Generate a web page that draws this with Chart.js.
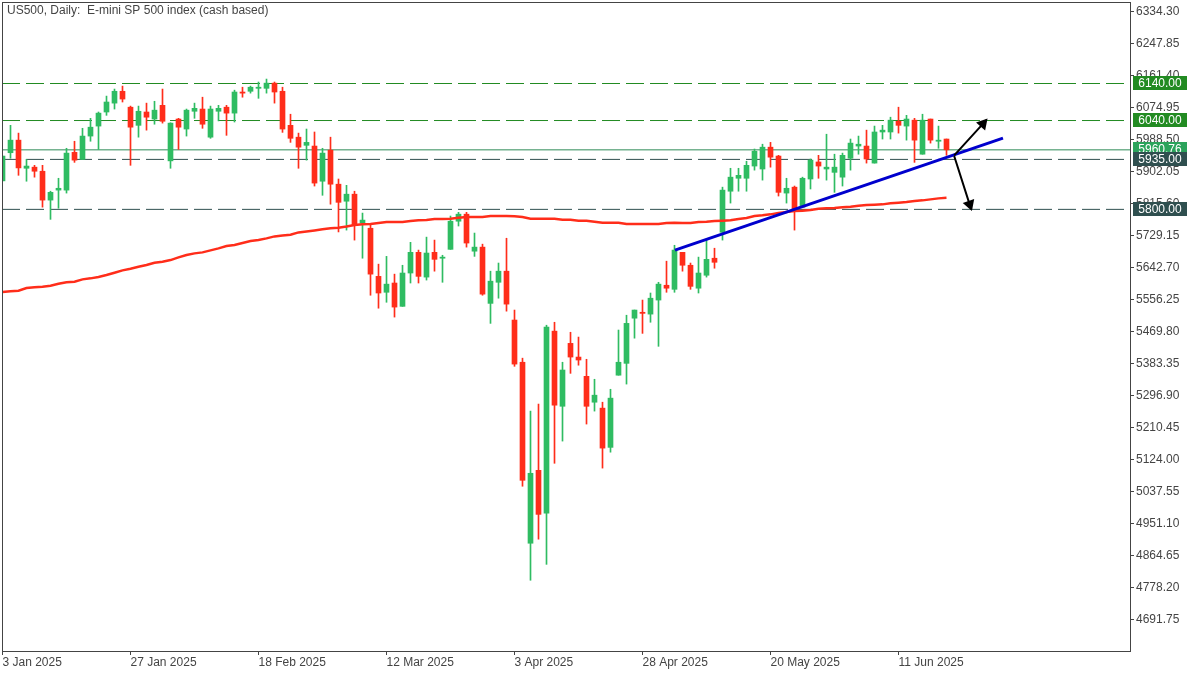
<!DOCTYPE html>
<html>
<head>
<meta charset="utf-8">
<title>US500, Daily</title>
<script src="https://cdn.jsdelivr.net/npm/chart.js@4/dist/chart.umd.min.js"></script>
<style>
  html, body { margin: 0; padding: 0; background: #fff; }
  canvas { display: block; }
</style>
</head>
<body>
<canvas id="chart" width="1200" height="675"></canvas>
<script>
// --- DATA ---
const opens = [
  5877, 5953, 5987, 5911, 5914, 5903, 5825, 5852, 5852, 5954,
  5935, 5998, 6025, 6063, 6087, 6119, 6076, 6027, 6063, 6044,
  6081, 5931, 6044, 6017, 6065, 6071, 5995, 6065, 6076, 6060,
  6117, 6119, 6127, 6127, 6141, 6119, 6027, 5995, 5973, 5971,
  5876, 5960, 5868, 5822, 5841, 5763, 5749, 5619, 5576, 5601,
  5538, 5628, 5684, 5617, 5684, 5668, 5692, 5768, 5787, 5687,
  5698, 5546, 5603, 5633, 5501, 5387, 4898, 5095, 4979, 5471,
  5268, 5438, 5401, 5349, 5279, 5263, 5157, 5352, 5384, 5506,
  5522, 5517, 5555, 5595, 5584, 5684, 5649, 5587, 5622, 5668,
  5738, 5849, 5884, 5884, 5917, 5909, 5968, 5944, 5844, 5860,
  5806, 5882, 5928, 5909, 5900, 5887, 5938, 5971, 5971, 5925,
  6009, 6009, 6038, 6025, 6041, 5949, 6044, 5984, 5990
];
const highs = [
  5944, 6027, 6006, 5935, 5919, 5919, 5849, 5884, 5965, 5984,
  6019, 6046, 6063, 6106, 6125, 6133, 6079, 6079, 6087, 6092,
  6125, 6034, 6046, 6071, 6087, 6103, 6079, 6081, 6081, 6122,
  6130, 6133, 6144, 6152, 6144, 6130, 6057, 6006, 6017, 6009,
  5965, 5995, 5882, 5865, 5849, 5790, 5757, 5652, 5673, 5625,
  5649, 5711, 5690, 5725, 5717, 5676, 5782, 5792, 5792, 5736,
  5706, 5633, 5655, 5722, 5528, 5398, 5255, 5274, 5487, 5495,
  5387, 5468, 5455, 5395, 5341, 5279, 5314, 5474, 5514, 5528,
  5555, 5574, 5603, 5660, 5703, 5684, 5655, 5671, 5717, 5695,
  5860, 5911, 5911, 5930, 5963, 5976, 5981, 5946, 5884, 5863,
  5887, 5936, 5946, 6003, 5949, 5952, 5990, 5998, 6014, 6025,
  6027, 6049, 6076, 6054, 6046, 6057, 6044, 6025, 5990
];
const lows = [
  5877, 5938, 5892, 5876, 5887, 5806, 5773, 5803, 5844, 5927,
  5935, 5984, 5962, 6054, 6071, 6090, 5919, 5995, 6014, 6030,
  6033, 5911, 5962, 5998, 6046, 6019, 5992, 6039, 6000, 6036,
  6103, 6114, 6100, 6114, 6087, 6008, 5981, 5911, 5933, 5863,
  5838, 5814, 5739, 5744, 5717, 5668, 5568, 5533, 5549, 5509,
  5538, 5601, 5601, 5609, 5633, 5603, 5692, 5755, 5698, 5673,
  5568, 5492, 5560, 5525, 5376, 5052, 4798, 4909, 4841, 5114,
  5174, 5357, 5379, 5220, 5255, 5101, 5144, 5352, 5328, 5452,
  5465, 5495, 5430, 5576, 5576, 5633, 5584, 5574, 5617, 5641,
  5717, 5817, 5849, 5849, 5906, 5879, 5914, 5836, 5817, 5744,
  5806, 5855, 5884, 5879, 5846, 5863, 5906, 5949, 5925, 5925,
  5990, 5990, 6006, 5987, 5927, 5949, 5979, 5965, 5946
];
const closes = [
  5944, 5987, 5912, 5917, 5903, 5825, 5846, 5857, 5952, 5933,
  5998, 6022, 6060, 6090, 6119, 6098, 6022, 6065, 6049, 6068,
  6038, 6033, 6022, 6068, 6073, 6030, 6071, 6073, 6060, 6117,
  6114, 6130, 6130, 6141, 6117, 6017, 5992, 5968, 5981, 5871,
  5952, 5868, 5819, 5841, 5757, 5771, 5625, 5574, 5598, 5536,
  5628, 5684, 5619, 5682, 5665, 5671, 5768, 5787, 5709, 5698,
  5571, 5606, 5633, 5544, 5382, 5068, 5087, 4976, 5482, 5271,
  5366, 5401, 5393, 5268, 5298, 5155, 5290, 5387, 5492, 5528,
  5519, 5560, 5598, 5587, 5690, 5649, 5592, 5628, 5665, 5657,
  5852, 5887, 5892, 5919, 5957, 5968, 5941, 5846, 5857, 5798,
  5884, 5933, 5917, 5914, 5914, 5946, 5979, 5976, 5936, 6009,
  6014, 6041, 6027, 6044, 5987, 6041, 5987, 5987, 5960.76
];
const ma200Values = [
  5576.6, 5578.5, 5580.1, 5587.4, 5589.3, 5590.9, 5593.6, 5599.0, 5602.8, 5604.4,
  5610.9, 5613.6, 5617.1, 5622.5, 5628.7, 5635.2, 5639.5, 5644.9, 5649.5, 5655.7,
  5658.4, 5663.0, 5670.3, 5676.5, 5681.1, 5683.8, 5689.2, 5694.6, 5700.8, 5703.5,
  5708.9, 5714.3, 5717.0, 5721.6, 5727.0, 5729.7, 5731.4, 5737.8, 5740.5, 5743.2,
  5746.0, 5748.7, 5750.3, 5753.5, 5757.6, 5759.5, 5760.3, 5763.0, 5765.7, 5765.7,
  5765.7, 5768.4, 5770.3, 5771.1, 5773.8, 5773.8, 5774.6, 5777.3, 5779.2, 5779.2,
  5779.2, 5781.9, 5781.9, 5781.9, 5781.1, 5779.2, 5774.6, 5774.6, 5774.6, 5774.6,
  5771.9, 5771.9, 5769.2, 5769.2, 5766.5, 5763.8, 5763.8, 5763.8, 5760.3, 5760.3,
  5760.3, 5760.3, 5760.3, 5763.0, 5763.8, 5763.2, 5763.0, 5765.7, 5766.5, 5768.4,
  5769.2, 5770.3, 5773.8, 5776.5, 5781.9, 5783.8, 5786.5, 5790.0, 5792.7, 5795.4,
  5796.2, 5798.1, 5801.6, 5802.7, 5803.5, 5805.4, 5807.0, 5809.7, 5811.6, 5812.4,
  5813.5, 5816.2, 5817.8, 5819.7, 5822.4, 5824.3, 5827.0, 5829.7, 5831.3
];

const priceTicks = [
  6334.30, 6247.85, 6161.40, 6074.95, 5988.50, 5902.05, 5815.60, 5729.15, 5642.70, 5556.25,
  5469.80, 5383.35, 5296.90, 5210.45, 5124.00, 5037.55, 4951.10, 4864.65, 4778.20, 4691.75
];
const dateTickBars = [0, 16, 32, 48, 64, 80, 96, 112];
const dateTickLabels = ['3 Jan 2025', '27 Jan 2025', '18 Feb 2025', '12 Mar 2025', '3 Apr 2025', '28 Apr 2025', '20 May 2025', '11 Jun 2025'];

const upperLevels = [6140, 6040];
const lowerLevels = [5935, 5800];
const lastPrice = 5960.76;

const trendBars = [84.06, 125.06];
const trendPrices = [5690, 5992.6];
const arrowUpBars = [118.96, 122.55, 122.96];
const arrowUpPrices = [5946, 6031, 6041];
const arrowDownBars = [118.96, 120.89, 121.09];
const arrowDownPrices = [5944, 5813.5, 5800.5];

const titleText = 'US500, Daily:  E-mini SP 500 index (cash based)';

// --- STYLE ---
const UP_COLOR = '#2fbc62';
const DOWN_COLOR = '#ff2d1a';
const LEVEL_GREEN = '#228b22';
const LEVEL_SLATE = '#2f4f4f';
const LAST_GREEN = '#2e8b57';
const AXIS_COLOR = '#444444';
const FONT = { family: '"Liberation Sans", Arial, sans-serif', size: 12 };

// --- DATASET HELPERS ---
const candleColors = closes.map((c, i) => (c >= opens[i] ? UP_COLOR : DOWN_COLOR));
const lastBar = 140.9375;
const firstBar = -0.0625;

const levelDataset = (value, color, order, dash) => ({
  type: 'line',
  data: [{ x: firstBar, y: value }, { x: lastBar, y: value }],
  borderColor: color,
  borderWidth: 1,
  borderDash: dash,
  pointRadius: 0,
  order
});

const arrowDataset = (bars, prices, rotation) => ({
  type: 'line',
  data: bars.map((x, i) => ({ x, y: prices[i] })),
  borderColor: '#000000',
  borderWidth: 2,
  pointStyle: 'triangle',
  pointRadius: [0, 7, 0],
  pointRotation: rotation,
  pointBackgroundColor: '#000000',
  pointBorderWidth: 0,
  order: 10
});

const datasets = [
  ...upperLevels.map(v => levelDataset(v, LEVEL_GREEN, 50, [18, 6])),
  ...lowerLevels.map(v => levelDataset(v, LEVEL_SLATE, 50, [18, 6])),
  levelDataset(lastPrice, LAST_GREEN, 49, []),
  {
    type: 'bar',
    data: closes.map((_, i) => ({ x: i, y: [lows[i], highs[i]] })),
    backgroundColor: candleColors,
    barThickness: 1,
    grouped: false,
    order: 40
  },
  {
    type: 'bar',
    data: closes.map((c, i) => ({ x: i, y: [opens[i], c] })),
    backgroundColor: candleColors,
    barThickness: 5,
    grouped: false,
    order: 39
  },
  {
    type: 'line',
    data: ma200Values.map((y, x) => ({ x, y })),
    borderColor: DOWN_COLOR,
    borderWidth: 2.5,
    pointRadius: 0,
    order: 30
  },
  {
    type: 'line',
    data: trendBars.map((x, i) => ({ x, y: trendPrices[i] })),
    borderColor: '#0000cd',
    borderWidth: 3,
    pointRadius: 0,
    order: 20
  },
  arrowDataset(arrowUpBars, arrowUpPrices, 41.5),
  arrowDataset(arrowDownBars, arrowDownPrices, 161)
];

// --- PLUGINS ---
const framePlugin = {
  id: 'frame',
  afterDatasetsDraw(chart) {
    const { ctx, chartArea: a } = chart;
    ctx.save();
    ctx.strokeStyle = AXIS_COLOR;
    ctx.lineWidth = 1;
    ctx.strokeRect(a.left + 0.5, a.top + 0.5, a.right - a.left, a.bottom - a.top);
    ctx.restore();
  }
};

const titlePlugin = {
  id: 'chartCaption',
  afterDraw(chart) {
    const { ctx } = chart;
    ctx.save();
    ctx.font = `${FONT.size}px ${FONT.family}`;
    ctx.fillStyle = AXIS_COLOR;
    ctx.textBaseline = 'middle';
    ctx.textAlign = 'left';
    ctx.fillText(titleText, 7, 11);
    ctx.restore();
  }
};

const priceTags = [
  [upperLevels[0], LEVEL_GREEN],
  [upperLevels[1], LEVEL_GREEN],
  [lastPrice, '#2ba35b'],
  [lowerLevels[0], LEVEL_SLATE],
  [lowerLevels[1], LEVEL_SLATE]
];

const tagPlugin = {
  id: 'priceTags',
  afterDraw(chart) {
    const { ctx, chartArea, scales } = chart;
    ctx.save();
    ctx.font = `${FONT.size}px ${FONT.family}`;
    ctx.textBaseline = 'middle';
    ctx.textAlign = 'center';
    priceTags.forEach(([value, color]) => {
      const y = Math.round(scales.y.getPixelForValue(value) - 0.5);
      ctx.fillStyle = color;
      ctx.fillRect(chartArea.right + 3, y - 7, 54, 14);
      ctx.fillStyle = '#ffffff';
      ctx.fillText(value.toFixed(2), chartArea.right + 30, y + 0.5);
    });
    ctx.restore();
  }
};

// scale padding would push the plot away from the canvas edge
const noScalePadding = scale => {
  scale.paddingTop = 0;
  scale.paddingBottom = 0;
  scale.paddingLeft = 0;
  scale.paddingRight = 0;
};

// --- CHART ---
new Chart(document.getElementById('chart').getContext('2d'), {
  data: { datasets },
  plugins: [framePlugin, tagPlugin, titlePlugin],
  options: {
    responsive: false,
    animation: false,
    devicePixelRatio: 1,
    layout: { padding: { left: 2, top: 2, right: 0, bottom: 0 } },
    plugins: { legend: { display: false }, tooltip: { enabled: false }, title: { display: false } },
    scales: {
      x: {
        type: 'linear',
        offset: false,
        min: firstBar,
        max: lastBar,
        afterFit: scale => { scale.height = 24; noScalePadding(scale); },
        afterBuildTicks: scale => { scale.ticks = dateTickBars.map(value => ({ value })); },
        grid: { offset: false, drawOnChartArea: false, drawTicks: true, tickLength: 4, color: AXIS_COLOR },
        border: { color: AXIS_COLOR },
        ticks: {
          autoSkip: false,
          maxRotation: 0,
          align: 'start',
          padding: 0,
          color: AXIS_COLOR,
          font: FONT,
          callback: value => dateTickLabels[dateTickBars.indexOf(value)]
        }
      },
      y: {
        type: 'linear',
        position: 'right',
        min: 4606.9,
        max: 6360.2,
        afterFit: scale => { scale.width = 70; noScalePadding(scale); },
        afterBuildTicks: scale => { scale.ticks = priceTicks.map(value => ({ value })); },
        grid: { drawOnChartArea: false, drawTicks: true, tickLength: 4, color: AXIS_COLOR },
        border: { color: AXIS_COLOR },
        ticks: {
          autoSkip: false,
          padding: 2,
          color: AXIS_COLOR,
          font: FONT,
          callback: value => value.toFixed(2)
        }
      }
    }
  }
});
</script>
</body>
</html>
